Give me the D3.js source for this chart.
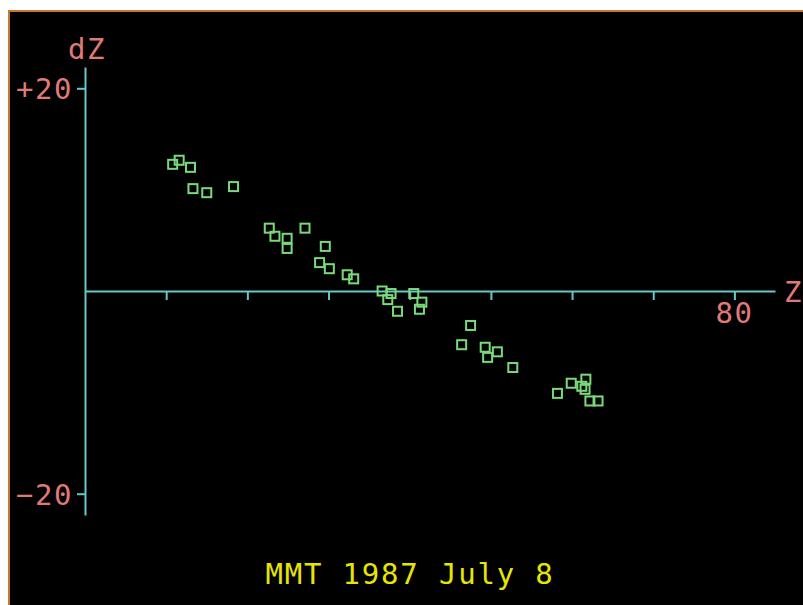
<!DOCTYPE html>
<html>
<head>
<meta charset="utf-8">
<script src="https://cdn.jsdelivr.net/npm/d3@7"></script>
<style>
  html, body { margin: 0; padding: 0; background: #fff; overflow: hidden; }
  text { font-family: "DejaVu Sans Mono", monospace; font-size: 29px; letter-spacing: 1.5px; }
</style>
</head>
<body>
<div id="chart"></div>
<script>
// Z position vs dZ
var zVals = [10.8, 11.6, 13.0, 13.3, 15.0, 18.3, 22.7, 23.4, 24.9, 24.9, 27.1, 29.6,
             28.9, 30.1, 32.3, 33.1, 36.6, 37.7, 37.3, 38.5, 40.5, 41.5, 41.2, 47.5,
             46.4, 49.3, 49.6, 50.8, 52.7, 58.2, 59.9, 61.2, 61.7, 61.6, 62.2, 63.2];
var dzVals = [12.5, 12.9, 12.2, 10.1, 9.7, 10.3, 6.2, 5.4, 5.2, 4.2, 6.2, 4.4,
              2.8, 2.2, 1.6, 1.2, 0.0, -0.25, -0.85, -2.0, -0.25, -1.1, -1.8, -3.4,
              -5.3, -5.55, -6.55, -6.0, -7.55, -10.1, -9.1, -9.4, -8.7, -9.7, -10.85, -10.85];
var xTicks = [10, 20, 30, 40, 50, 60, 70, 80];
var yTicks = [20, -20];
var title = "MMT 1987 July 8";

var width = 803, height = 605;
var svg = d3.select("#chart").append("svg").attr("width", width).attr("height", height);

svg.append("rect").attr("x", 9).attr("y", 11).attr("width", width).attr("height", height)
    .attr("fill", "#000").attr("stroke", "#c8782a").attr("stroke-width", 2);

var x = d3.scaleLinear().domain([0, 85]).range([85, 775]);
var y = d3.scaleLinear().domain([-22.1, 22.1]).range([515, 67]);

var axisColor = "#66c8c8", labelColor = "#e07a78";

// x axis, ticks hanging below
var gx = svg.append("g").attr("transform", "translate(0," + y(0) + ")")
    .call(d3.axisBottom(x).tickValues(xTicks).tickSize(9).tickSizeOuter(0).tickFormat(""));
gx.select(".domain").attr("stroke", axisColor).attr("stroke-width", 2);
gx.selectAll(".tick line").attr("stroke", axisColor).attr("stroke-width", 2);

// y axis with two ticks
var gy = svg.append("g").attr("transform", "translate(" + x(0) + ",0)")
    .call(d3.axisLeft(y).tickValues(yTicks).tickSize(8).tickSizeOuter(0).tickFormat(""));
gy.select(".domain").attr("stroke", axisColor).attr("stroke-width", 2);
gy.selectAll(".tick line").attr("stroke", axisColor).attr("stroke-width", 2);

svg.selectAll(".ylab").data(yTicks).enter().append("text")
    .attr("class", "ylab")
    .attr("x", 73).attr("y", d => y(d) + 11)
    .attr("text-anchor", "end").attr("fill", labelColor)
    .text(d => (d > 0 ? "+" : "\u2212") + Math.abs(d));

svg.append("text").attr("x", x(80)).attr("y", 323).attr("text-anchor", "middle")
    .attr("fill", labelColor).text("80");
svg.append("text").attr("x", 784).attr("y", 302).attr("fill", labelColor).text("Z");
svg.append("text").attr("x", 68).attr("y", 59).attr("fill", labelColor).text("dZ");

svg.append("text").attr("x", 410).attr("y", 584).attr("text-anchor", "middle")
    .attr("fill", "#e6e600").style("letter-spacing", "1.8px")
    .text(title);

// data squares
svg.selectAll(".pt").data(zVals).enter().append("rect")
    .attr("class", "pt")
    .attr("x", (d, i) => x(d) - 4.5).attr("y", (d, i) => y(dzVals[i]) - 4.5)
    .attr("width", 9).attr("height", 9)
    .attr("fill", "none").attr("stroke", "#7ada7a").attr("stroke-width", 2);
</script>
</body>
</html>
